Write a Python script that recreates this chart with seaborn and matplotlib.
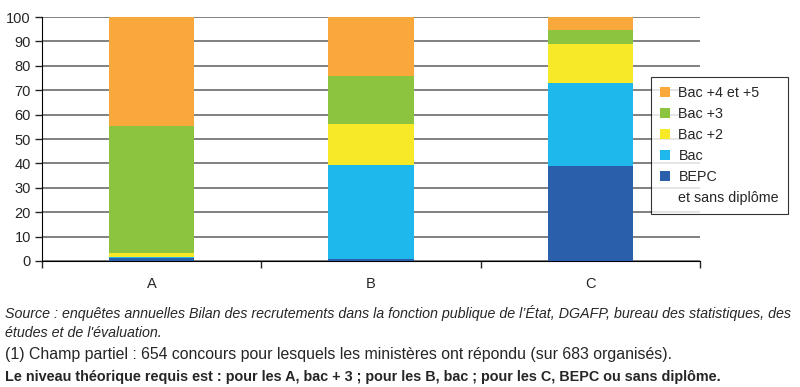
import numpy as np
import pandas as pd
import matplotlib
matplotlib.use("Agg")
import matplotlib.pyplot as plt
from matplotlib.patches import Patch
import seaborn as sns

# data (percent of recruits per diploma level)
categories = ["A", "B", "C"]
levels = ["BEPC", "Bac", "Bac +2", "Bac +3", "Bac +4 et +5"]
bepc = [1.3, 1.0, 39.1]
bac = [0.5, 38.4, 33.8]
bac2 = [1.6, 16.7, 16.0]
bac3 = [52.0, 19.8, 5.6]
bac45 = [44.6, 24.1, 5.5]
colors = ["#2a5fab", "#1eb8ec", "#f7e928", "#8cc43f", "#f9a93c"]

sns.set_style("white")
plt.rcParams["font.family"] = ["Liberation Sans", "DejaVu Sans"]

df = pd.DataFrame({"cat": categories, levels[0]: bepc, levels[1]: bac,
                   levels[2]: bac2, levels[3]: bac3, levels[4]: bac45})
cum = df[levels].cumsum(axis=1)

fig = plt.figure(figsize=(8, 3.87), dpi=100)
ax = fig.add_axes([0.0525, 0.3256, 0.8225, 0.6304])

# stacked bars: draw cumulative totals from the top level down
for lev, col in reversed(list(zip(levels, colors))):
    sns.barplot(x=df["cat"], y=cum[lev], color=col, width=0.39,
                saturation=1, ax=ax, linewidth=0, zorder=3)

ax.set_ylim(0, 100)
ax.set_xlim(-0.5, 2.5)
ax.set_yticks(range(0, 101, 10))
ax.yaxis.grid(True, color="#808080", linewidth=1.4, zorder=0)
ax.set_axisbelow(True)
ax.set_xlabel("")
ax.set_ylabel("")
for s in ["top", "right"]:
    ax.spines[s].set_visible(False)
ax.spines["left"].set_color("black")
ax.spines["bottom"].set_color("black")
ax.tick_params(axis="y", left=True, length=5, width=1, labelsize=10.5, pad=3)
ax.tick_params(axis="x", bottom=False, labelsize=10.5, pad=8)
ax.set_xticks([-0.5, 0.5, 1.5, 2.5], minor=True)
ax.tick_params(axis="x", which="minor", bottom=True, length=5, width=1)

# legend: top level first, second line of the BEPC label as a blank entry
handles = [Patch(facecolor=c, edgecolor="none", label=l)
           for l, c in zip(levels, colors)][::-1]
handles.append(Patch(facecolor="none", edgecolor="none", label="et sans diplôme"))
leg = fig.legend(handles=handles, loc="upper left",
                 bbox_to_anchor=(0.814, 0.801), borderaxespad=0,
                 frameon=True, fancybox=False,
                 edgecolor="black", fontsize=10.3, handlelength=0.7,
                 handleheight=0.7, handletextpad=0.6, labelspacing=0.5,
                 borderpad=0.6)
leg.get_frame().set_linewidth(0.8)

fig.text(0.006, 1 - 313 / 387, "Source : enquêtes annuelles Bilan des recrutements dans la fonction publique de l’État, DGAFP, bureau des statistiques, des",
         fontsize=10.3, style="italic", va="center")
fig.text(0.006, 1 - 333 / 387, "études et de l'évaluation.",
         fontsize=10.3, style="italic", va="center")
fig.text(0.006, 1 - 355 / 387, "(1) Champ partiel : 654 concours pour lesquels les ministères ont répondu (sur 683 organisés).",
         fontsize=11.4, va="center")
fig.text(0.006, 1 - 377 / 387, "Le niveau théorique requis est : pour les A, bac + 3 ; pour les B, bac ; pour les C, BEPC ou sans diplôme.",
         fontsize=10.33, fontweight="bold", va="center")

fig.savefig("out.png", dpi=100)
